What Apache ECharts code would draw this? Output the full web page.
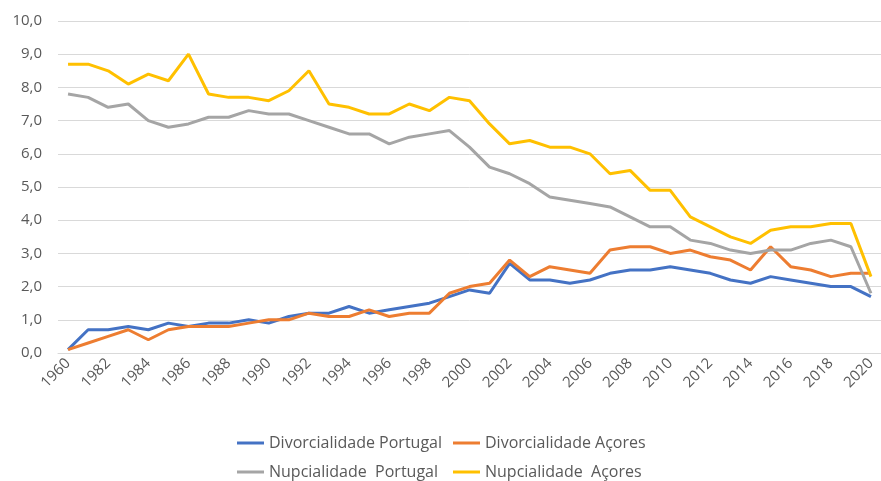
<!DOCTYPE html>
<html>
<head>
<meta charset="utf-8">
<script src="https://cdn.jsdelivr.net/npm/echarts@6/dist/echarts.min.js"></script>
<style>
  html, body { margin: 0; padding: 0; background: #fff; }
  #chart { width: 881px; height: 481px; }
</style>
</head>
<body>
<div id="chart"></div>
<script>
  // anos (1960 e depois 1981-2020)
  var anos = ['1960'];
  for (var a = 1981; a <= 2020; a++) { anos.push(String(a)); }

  var divPortugal = [0.1, 0.7, 0.7, 0.8, 0.7, 0.9, 0.8, 0.9, 0.9, 1.0, 0.9, 1.1, 1.2, 1.2, 1.4, 1.2, 1.3, 1.4, 1.5, 1.7, 1.9,
    1.8, 2.7, 2.2, 2.2, 2.1, 2.2, 2.4, 2.5, 2.5, 2.6, 2.5, 2.4, 2.2, 2.1, 2.3, 2.2, 2.1, 2.0, 2.0, 1.7];
  var divAcores = [0.1, 0.3, 0.5, 0.7, 0.4, 0.7, 0.8, 0.8, 0.8, 0.9, 1.0, 1.0, 1.2, 1.1, 1.1, 1.3, 1.1, 1.2, 1.2, 1.8, 2.0,
    2.1, 2.8, 2.3, 2.6, 2.5, 2.4, 3.1, 3.2, 3.2, 3.0, 3.1, 2.9, 2.8, 2.5, 3.2, 2.6, 2.5, 2.3, 2.4, 2.4];
  var nupPortugal = [7.8, 7.7, 7.4, 7.5, 7.0, 6.8, 6.9, 7.1, 7.1, 7.3, 7.2, 7.2, 7.0, 6.8, 6.6, 6.6, 6.3, 6.5, 6.6, 6.7, 6.2,
    5.6, 5.4, 5.1, 4.7, 4.6, 4.5, 4.4, 4.1, 3.8, 3.8, 3.4, 3.3, 3.1, 3.0, 3.1, 3.1, 3.3, 3.4, 3.2, 1.8];
  var nupAcores = [8.7, 8.7, 8.5, 8.1, 8.4, 8.2, 9.0, 7.8, 7.7, 7.7, 7.6, 7.9, 8.5, 7.5, 7.4, 7.2, 7.2, 7.5, 7.3, 7.7, 7.6,
    6.9, 6.3, 6.4, 6.2, 6.2, 6.0, 5.4, 5.5, 4.9, 4.9, 4.1, 3.8, 3.5, 3.3, 3.7, 3.8, 3.8, 3.9, 3.9, 2.3];

  var nomes = ['Divorcialidade Portugal', 'Divorcialidade Açores', 'Nupcialidade  Portugal', 'Nupcialidade  Açores'];
  var cores = ['#4472C4', '#ED7D31', '#A5A5A5', '#FFC000'];
  var valores = [divPortugal, divAcores, nupPortugal, nupAcores];

  var fonte = '"Open Sans", "Noto Sans", sans-serif';
  var txt = '#595959';

  var chart = echarts.init(document.getElementById('chart'));

  var legendas = [];
  var posLeg = [[232, 430], [448, 430], [232, 459], [448, 459]];
  for (var i = 0; i < nomes.length; i++) {
    legendas.push({
      data: [nomes[i]],
      left: posLeg[i][0],
      top: posLeg[i][1],
      icon: 'rect',
      itemWidth: 27,
      itemHeight: 3,
      selectedMode: false,
      textStyle: { color: txt, fontSize: 16, fontFamily: fonte }
    });
  }

  chart.setOption({
    animation: false,
    backgroundColor: '#fff',
    color: cores,
    grid: { left: 58, right: 0, top: 21, bottom: 128 },
    legend: legendas,
    xAxis: {
      type: 'category',
      data: anos,
      boundaryGap: true,
      axisLine: { lineStyle: { color: '#d9d9d9', width: 1 } },
      axisTick: { show: false },
      axisLabel: {
        interval: 1,
        rotate: 45,
        color: txt,
        fontSize: 15,
        fontFamily: fonte,
        margin: 8
      }
    },
    yAxis: {
      type: 'value',
      min: 0,
      max: 10,
      interval: 1,
      axisLine: { show: false },
      axisTick: { show: false },
      splitLine: { lineStyle: { color: '#d9d9d9', width: 1 } },
      axisLabel: {
        color: txt,
        fontSize: 15,
        fontFamily: fonte,
        margin: 16,
        formatter: function (v) { return v.toFixed(1).replace('.', ','); }
      }
    },
    series: valores.map(function (d, i) {
      return {
        name: nomes[i],
        type: 'line',
        data: d,
        symbol: 'none',
        lineStyle: { width: 3, color: cores[i] },
        itemStyle: { color: cores[i] }
      };
    })
  });
</script>
</body>
</html>
